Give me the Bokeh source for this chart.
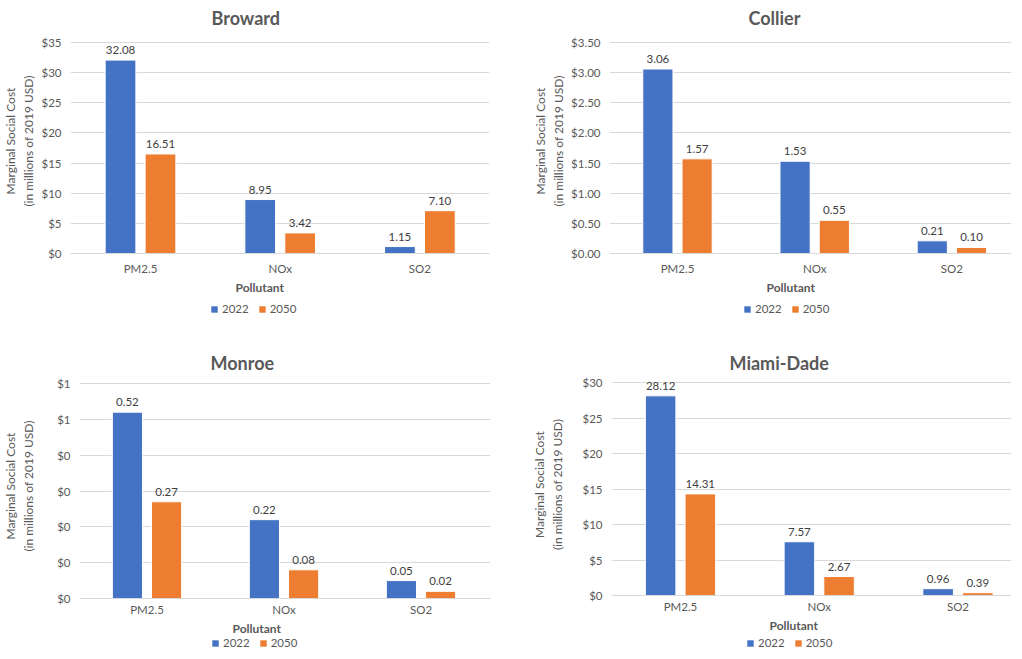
from bokeh.plotting import figure
from bokeh.models import (Range1d, FixedTicker, NumeralTickFormatter, Legend, LegendItem,
                          Title, ColumnDataSource)
from bokeh.layouts import row, column
from bokeh.transform import dodge
from bokeh.core.properties import value
from bokeh.embed import file_html
from bokeh.resources import INLINE

# ---------------- data ----------------
pollutants = ["PM2.5", "NOx", "SO2"]
years = ["2022", "2050"]

broward_2022 = [32.08, 8.95, 1.15]
broward_2050 = [16.51, 3.42, 7.10]
collier_2022 = [3.06, 1.53, 0.21]
collier_2050 = [1.57, 0.55, 0.10]
monroe_2022 = [0.52, 0.22, 0.05]
monroe_2050 = [0.27, 0.08, 0.02]
miami_2022 = [28.12, 7.57, 0.96]
miami_2050 = [14.31, 2.67, 0.39]

broward_ticks = [0, 5, 10, 15, 20, 25, 30, 35]
collier_ticks = [0, 0.5, 1.0, 1.5, 2.0, 2.5, 3.0, 3.5]
monroe_ticks = [0, 0.1, 0.2, 0.3, 0.4, 0.5, 0.6]
miami_ticks = [0, 5, 10, 15, 20, 25, 30]

counties = ["Broward", "Collier", "Monroe", "Miami-Dade"]
y_title = "Marginal Social Cost\n(in millions of 2019 USD)"
x_title = "Pollutant"

# ---------------- style ----------------
FONT = "Lato"
BLUE = "#4472C4"
ORANGE = "#ED7D31"
GRID = "#D9D9D9"
TXT = "#595959"
LBL = "#404040"
COLORS = [BLUE, ORANGE]
OFFS = [-0.143, 0.143]
BAR_W = 0.22


def no_ticks(ax):
    ax.major_tick_line_color = None
    ax.minor_tick_line_color = None
    ax.major_tick_out = 0
    ax.major_tick_in = 0
    ax.minor_tick_out = 0
    ax.minor_tick_in = 0


def make_panel(name, vals, ticks, fmt, fig_left, fig_top, frame_left, frame_right,
               cat_start, cat_step, ytop, ybot, head, bb, fig_w,
               lab_standoff, xlab_standoff, title_off, pol_off):
    frame_w = frame_right - frame_left
    frame_h = ybot - ytop + head
    y_end = ticks[-1] * frame_h / (ybot - ytop)
    x_start = (frame_left - cat_start) / cat_step
    x_end = x_start + frame_w / cat_step
    bl = frame_left - fig_left
    br = fig_w - bl - frame_w
    bt = ytop - head - fig_top

    p = figure(x_range=Range1d(x_start, x_end), y_range=Range1d(0, y_end),
               frame_width=frame_w, frame_height=frame_h,
               min_border_left=bl, min_border_right=br, min_border_top=bt, min_border_bottom=bb,
               output_backend="svg", toolbar_location=None, title=name)
    p.outline_line_color = None
    p.background_fill_color = "white"
    p.border_fill_color = "white"

    p.title.align = "left"
    p.title.offset = title_off
    p.title.standoff = 0
    p.title.text_font = FONT
    p.title.text_font_size = "18px"
    p.title.text_font_style = "bold"
    p.title.text_color = TXT

    xc = [i + 0.5 for i in range(len(pollutants))]
    data = dict(xc=xc)
    for k, v in enumerate(vals):
        data[f"v{k}"] = v
        data[f"l{k}"] = [f"{x:.2f}" for x in v]
    src = ColumnDataSource(data)
    for k in range(len(vals)):
        p.vbar(x=dodge("xc", OFFS[k]), top=f"v{k}", width=BAR_W, source=src,
               fill_color=COLORS[k], line_color="white", line_width=1)
        p.text(x=dodge("xc", OFFS[k]), y=f"v{k}", text=f"l{k}", source=src,
               text_align="center", text_baseline="bottom", y_offset=-6,
               text_font=value(FONT), text_font_size="11.5px", text_color=LBL)

    # axes
    p.xaxis.ticker = FixedTicker(ticks=xc)
    p.xaxis.major_label_overrides = {x: lab for x, lab in zip(xc, pollutants)}
    p.xaxis.axis_line_color = GRID
    no_ticks(p.xaxis[0])
    p.xaxis.major_label_standoff = xlab_standoff
    p.xaxis.major_label_text_font = FONT
    p.xaxis.major_label_text_font_size = "11.5px"
    p.xaxis.major_label_text_color = TXT

    p.yaxis.ticker = FixedTicker(ticks=ticks)
    p.yaxis.formatter = NumeralTickFormatter(format=fmt)
    p.yaxis.axis_line_color = None
    no_ticks(p.yaxis[0])
    p.yaxis.major_label_standoff = 9
    p.yaxis.major_label_text_font = FONT
    p.yaxis.major_label_text_font_size = "11.5px"
    p.yaxis.major_label_text_color = TXT
    p.yaxis.axis_label = y_title
    p.yaxis.axis_label_standoff = lab_standoff
    p.yaxis.axis_label_text_font = FONT
    p.yaxis.axis_label_text_font_size = "12px"
    p.yaxis.axis_label_text_font_style = "normal"
    p.yaxis.axis_label_text_color = TXT

    p.xgrid.visible = False
    p.ygrid.grid_line_color = GRID
    p.ygrid.grid_line_width = 1

    pol = Title(text=x_title, align="left", offset=pol_off, standoff=0,
                text_font=FONT, text_font_size="12px", text_font_style="bold", text_color=TXT)
    p.add_layout(pol, "below")
    return p


def make_footer(vals, fig_w, fig_h, leg_x, leg_y):
    # strip under each chart holding the series legend (pixel coordinates)
    lf = figure(width=fig_w, height=fig_h, x_range=Range1d(0, fig_w), y_range=Range1d(0, fig_h),
                min_border=0, x_axis_location=None, y_axis_location=None,
                output_backend="svg", toolbar_location=None)
    lf.outline_line_color = None
    lf.background_fill_color = "white"
    lf.border_fill_color = "white"
    lf.xgrid.visible = False
    lf.ygrid.visible = False
    xc = [i + 0.5 for i in range(len(pollutants))]
    rs = [lf.vbar(x=xc, top=v, width=BAR_W, fill_color=c, line_color=None, visible=False)
          for v, c in zip(vals, COLORS)]
    legend = Legend(items=[LegendItem(label=y, renderers=[r]) for y, r in zip(years, rs)],
                    orientation="horizontal", location=(leg_x, leg_y),
                    glyph_width=8, glyph_height=8, label_standoff=4, spacing=9,
                    padding=0, margin=0, label_height=12,
                    label_text_font=FONT, label_text_font_size="11.5px", label_text_color=TXT,
                    border_line_color=None, background_fill_alpha=0,
                    inactive_fill_alpha=0)
    lf.add_layout(legend, "center")
    return lf


broward = [broward_2022, broward_2050]
collier = [collier_2022, collier_2050]
monroe = [monroe_2022, monroe_2050]
miami = [miami_2022, miami_2050]

ROW1_TOP = 2

p1 = make_panel(counties[0], broward, broward_ticks, "$0",
                fig_left=8, fig_top=ROW1_TOP, frame_left=73, frame_right=492,
                cat_start=73.15, cat_step=139.7, ytop=44, ybot=255, head=14, bb=46,
                fig_w=503, lab_standoff=2, xlab_standoff=8, title_off=141, pol_off=165)
p2 = make_panel(counties[1], collier, collier_ticks, "$0.00",
                fig_left=511, fig_top=ROW1_TOP, frame_left=612, frame_right=1014,
                cat_start=611.4, cat_step=137.2, ytop=44, ybot=255, head=14, bb=46,
                fig_w=503, lab_standoff=2, xlab_standoff=8, title_off=139, pol_off=157)
p3 = make_panel(counties[2], monroe, monroe_ticks, "$0",
                fig_left=8, fig_top=320, frame_left=82, frame_right=493,
                cat_start=81, cat_step=137.0, ytop=382, ybot=597, head=10, bb=42,
                fig_w=503, lab_standoff=18, xlab_standoff=4, title_off=131, pol_off=153)
p4 = make_panel(counties[3], miami, miami_ticks, "$0",
                fig_left=511, fig_top=320, frame_left=614, frame_right=1014,
                cat_start=613.6, cat_step=138.75, ytop=384, ybot=597, head=9, bb=42,
                fig_w=503, lab_standoff=14, xlab_standoff=4, title_off=118, pol_off=158)

f1 = make_footer(broward, 503, 19, 210, 3)
f2 = make_footer(collier, 503, 19, 240, 3)
f3 = make_footer(monroe, 503, 12, 211, 0)
f4 = make_footer(miami, 503, 12, 243, 0)

layout = column(row(p1, p2), row(f1, f2), row(p3, p4), row(f3, f4))

with open("out.html", "w") as f:
    f.write(file_html(layout, INLINE))
